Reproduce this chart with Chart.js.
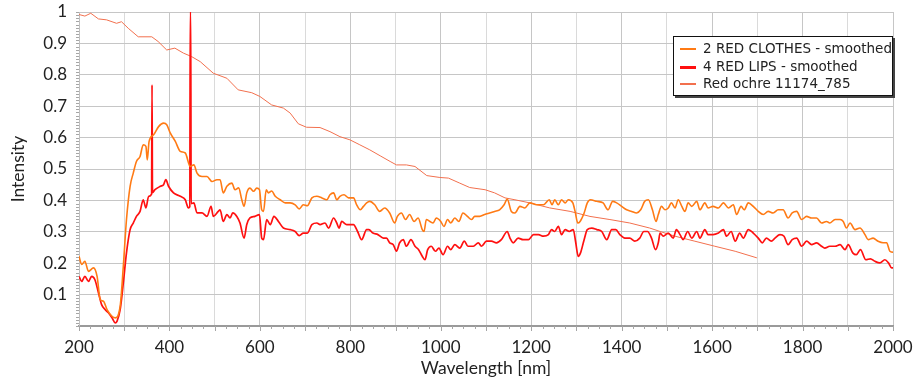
<!DOCTYPE html>
<html>
<head>
<meta charset="utf-8">
<script src="https://cdn.jsdelivr.net/npm/chart.js@4.4.1/dist/chart.umd.min.js"></script>
<style>
  html, body { margin: 0; padding: 0; background: #fff; }
  #wrap { position: relative; width: 914px; height: 383px; }
  #legend {
    position: absolute; left: 673px; top: 36px; width: 220px; height: 60px;
    background: #fff; border: 1px solid #111; box-shadow: 2px 2px 0 #444;
    font: 13.5px "DejaVu Sans", Verdana, sans-serif; color: #222;
    padding-top: 3px; box-sizing: border-box;
  }
  #legend .row { height: 17.5px; line-height: 17.5px; white-space: nowrap; position: relative; }
  #legend .sw { position: absolute; left: 6px; top: 8px; width: 16px; }
  #legend .tx { position: absolute; left: 29px; top: 0; }
</style>
</head>
<body>
<div id="wrap">
  <canvas id="chart" width="914" height="383"></canvas>
  <div id="legend"></div>
</div>
<script>
/* ── spectres : 2 RED CLOTHES / 4 RED LIPS / Red ochre ── */

const xLabels = ['200', '400', '600', '800', '1000', '1200', '1400', '1600', '1800', '2000'];
const seriesNames = ['2 RED CLOTHES - smoothed', '4 RED LIPS - smoothed', 'Red ochre 11174_785'];

const clothesNm = [200, 206, 213, 221, 232, 240, 247, 254, 262, 273, 280, 291, 298, 305, 313, 320, 327, 335, 342, 348,
  351, 355, 365, 376, 387, 394, 402, 413, 424, 435, 446, 454, 461, 472, 483, 494, 505, 512, 519, 527,
  538, 545, 553, 560, 565, 571, 578, 586, 593, 599, 604, 608, 614, 619, 626, 634, 645, 656, 667, 678,
  687, 696, 705, 715, 726, 737, 748, 755, 763, 770, 777, 786, 796, 807, 814, 822, 829, 836, 843, 854,
  865, 876, 887, 898, 904, 913, 922, 931, 941, 950, 959, 963, 968, 976, 983, 990, 1000, 1007, 1015, 1022,
  1031, 1040, 1049, 1059, 1068, 1075, 1086, 1097, 1108, 1119, 1130, 1140, 1147, 1156, 1164, 1175, 1186, 1197, 1212, 1227,
  1240, 1246, 1252, 1260, 1267, 1275, 1282, 1292, 1297, 1303, 1308, 1317, 1324, 1331, 1345, 1359, 1370, 1380, 1389, 1400,
  1411, 1422, 1433, 1442, 1451, 1459, 1468, 1476, 1481, 1488, 1496, 1503, 1510, 1518, 1525, 1533, 1540, 1547, 1555, 1566,
  1573, 1584, 1591, 1602, 1614, 1625, 1636, 1647, 1654, 1664, 1671, 1680, 1691, 1702, 1713, 1724, 1735, 1746, 1757, 1768,
  1777, 1787, 1798, 1809, 1820, 1831, 1842, 1853, 1860, 1872, 1883, 1890, 1897, 1905, 1916, 1927, 1938, 1945, 1956, 1967,
  1978, 1986, 1993, 2000];
const clothesVal = [0.222, 0.196, 0.206, 0.174, 0.185, 0.158, 0.084, 0.079, 0.052, 0.031, 0.026, 0.063, 0.19, 0.339, 0.445, 0.487, 0.524, 0.54, 0.577, 0.572,
  0.529, 0.588, 0.609, 0.635, 0.646, 0.641, 0.614, 0.588, 0.556, 0.551, 0.508, 0.513, 0.487, 0.476, 0.476, 0.46, 0.466, 0.466, 0.424, 0.445,
  0.455, 0.434, 0.44, 0.402, 0.381, 0.424, 0.439, 0.429, 0.439, 0.434, 0.37, 0.365, 0.434, 0.424, 0.43, 0.413, 0.402, 0.392, 0.392, 0.386,
  0.373, 0.386, 0.383, 0.408, 0.413, 0.408, 0.402, 0.418, 0.424, 0.402, 0.413, 0.418, 0.408, 0.408, 0.386, 0.37, 0.381, 0.392, 0.397, 0.386,
  0.365, 0.376, 0.36, 0.328, 0.349, 0.36, 0.339, 0.355, 0.333, 0.344, 0.307, 0.301, 0.339, 0.333, 0.328, 0.344, 0.333, 0.317, 0.339, 0.328,
  0.344, 0.333, 0.36, 0.349, 0.339, 0.349, 0.349, 0.355, 0.36, 0.365, 0.37, 0.386, 0.404, 0.365, 0.36, 0.381, 0.376, 0.392, 0.386, 0.386,
  0.402, 0.386, 0.402, 0.386, 0.402, 0.392, 0.402, 0.392, 0.365, 0.328, 0.333, 0.36, 0.392, 0.402, 0.397, 0.392, 0.37, 0.397, 0.392, 0.381,
  0.37, 0.365, 0.36, 0.37, 0.397, 0.402, 0.37, 0.333, 0.355, 0.381, 0.37, 0.376, 0.392, 0.376, 0.402, 0.381, 0.365, 0.392, 0.381, 0.397,
  0.37, 0.392, 0.376, 0.381, 0.376, 0.392, 0.376, 0.386, 0.355, 0.381, 0.37, 0.392, 0.381, 0.365, 0.355, 0.365, 0.36, 0.37, 0.37, 0.344,
  0.36, 0.365, 0.339, 0.349, 0.344, 0.344, 0.328, 0.333, 0.328, 0.339, 0.339, 0.333, 0.312, 0.328, 0.307, 0.312, 0.291, 0.275, 0.28, 0.27,
  0.265, 0.265, 0.238, 0.235];

const lipsNm = [200, 206, 213, 221, 228, 235, 243, 250, 258, 265, 273, 280, 284, 291, 298, 305, 313, 320, 327, 335,
  342, 348, 354, 360.5, 361.5, 362.5, 368, 380, 387, 392, 398, 409, 424, 435, 442, 445, 446, 447, 448, 454, 461,
  472, 483, 492, 497, 508, 512, 519, 527, 534, 540, 549, 556, 565, 571, 578, 589, 599, 604, 608, 615,
  623, 631, 641, 652, 667, 678, 687, 696, 705, 715, 726, 733, 744, 752, 763, 770, 775, 781, 792, 807,
  816, 825, 836, 841, 850, 861, 873, 880, 887, 895, 902, 909, 917, 924, 934, 943, 951, 959, 965, 971,
  979, 988, 996, 1005, 1015, 1022, 1031, 1042, 1052, 1060, 1072, 1083, 1090, 1101, 1112, 1123, 1134, 1147, 1153, 1160,
  1171, 1182, 1194, 1205, 1216, 1227, 1238, 1245, 1252, 1260, 1267, 1275, 1284, 1293, 1298, 1304, 1309, 1317, 1324, 1334,
  1345, 1356, 1367, 1378, 1387, 1396, 1407, 1418, 1429, 1440, 1449, 1457, 1466, 1475, 1481, 1485, 1492, 1503, 1514, 1521,
  1529, 1536, 1546, 1555, 1566, 1573, 1584, 1591, 1602, 1614, 1625, 1632, 1642, 1651, 1661, 1669, 1680, 1691, 1702, 1711,
  1720, 1731, 1739, 1750, 1759, 1768, 1777, 1787, 1798, 1809, 1820, 1831, 1842, 1849, 1860, 1872, 1883, 1894, 1901, 1911,
  1919, 1928, 1940, 1950, 1960, 1971, 1982, 1990, 1997, 2000];
const lipsVal = [0.158, 0.142, 0.158, 0.142, 0.158, 0.148, 0.106, 0.068, 0.052, 0.042, 0.026, 0.01, 0.015, 0.052, 0.137, 0.233, 0.307, 0.328, 0.349, 0.365,
  0.402, 0.376, 0.413, 0.42, 0.768, 0.425, 0.434, 0.445, 0.45, 0.466, 0.445, 0.424, 0.413, 0.402, 0.376, 0.38, 1.0, 1.0, 0.39, 0.392, 0.36,
  0.36, 0.349, 0.381, 0.349, 0.365, 0.37, 0.333, 0.355, 0.344, 0.36, 0.349, 0.328, 0.28, 0.323, 0.344, 0.349, 0.355, 0.28, 0.275, 0.339,
  0.323, 0.349, 0.333, 0.312, 0.307, 0.301, 0.288, 0.296, 0.296, 0.323, 0.328, 0.323, 0.328, 0.312, 0.344, 0.328, 0.312, 0.333, 0.323, 0.323,
  0.301, 0.275, 0.307, 0.307, 0.296, 0.291, 0.28, 0.28, 0.265, 0.259, 0.238, 0.265, 0.275, 0.254, 0.275, 0.254, 0.243, 0.222, 0.211, 0.243,
  0.254, 0.238, 0.248, 0.227, 0.254, 0.243, 0.259, 0.248, 0.27, 0.254, 0.254, 0.265, 0.254, 0.27, 0.27, 0.265, 0.275, 0.301, 0.28, 0.265,
  0.28, 0.275, 0.275, 0.291, 0.291, 0.286, 0.291, 0.307, 0.301, 0.317, 0.291, 0.307, 0.301, 0.307, 0.27, 0.222, 0.233, 0.275, 0.307, 0.312,
  0.307, 0.301, 0.275, 0.307, 0.307, 0.291, 0.28, 0.28, 0.27, 0.28, 0.301, 0.301, 0.28, 0.243, 0.265, 0.296, 0.286, 0.296, 0.28, 0.307,
  0.291, 0.275, 0.301, 0.28, 0.301, 0.28, 0.307, 0.291, 0.291, 0.296, 0.307, 0.286, 0.301, 0.27, 0.296, 0.28, 0.307, 0.296, 0.28, 0.265,
  0.28, 0.27, 0.28, 0.291, 0.286, 0.259, 0.275, 0.28, 0.254, 0.27, 0.259, 0.265, 0.254, 0.248, 0.254, 0.254, 0.259, 0.243, 0.259, 0.233,
  0.227, 0.243, 0.211, 0.214, 0.206, 0.201, 0.211, 0.201, 0.185, 0.185];

const ochreNm = [200, 213, 226, 243, 261, 283, 294, 309, 331, 361, 375, 394, 412, 431, 449, 468, 497, 527, 552, 582,
  600, 626, 652, 667, 685, 703, 733, 755, 777, 799, 821, 843, 866, 888, 902, 924, 943, 969, 998, 1017,
  1042, 1064, 1098, 1119, 1142, 1164, 1197, 1241, 1286, 1330, 1374, 1418, 1462, 1485, 1518, 1562, 1606, 1651, 1699];
const ochreVal = [0.992, 0.987, 0.996, 0.978, 0.975, 0.964, 0.969, 0.948, 0.921, 0.921, 0.906, 0.879, 0.885, 0.869, 0.858, 0.842, 0.805, 0.789, 0.752, 0.743,
  0.731, 0.704, 0.694, 0.678, 0.644, 0.633, 0.632, 0.619, 0.603, 0.593, 0.577, 0.561, 0.542, 0.524, 0.513, 0.513, 0.508, 0.479, 0.473, 0.471,
  0.455, 0.441, 0.434, 0.424, 0.408, 0.402, 0.392, 0.376, 0.365, 0.349, 0.339, 0.328, 0.312, 0.301, 0.286, 0.27, 0.254, 0.238, 0.217];

const colors = ['#ff7a14', '#ff1010', '#f2704e'];
const widths = [1.6, 1.7, 1];
const swatchW = [2, 3, 2];

const pts = (xs, ys) => xs.map((x, i) => ({ x, y: ys[i] }));

/* petites graduations façon Excel */
const minorTicks = {
  id: 'minorTicks',
  afterDraw(chart) {
    const { ctx, scales: { x, y }, chartArea: a } = chart;
    ctx.save();
    ctx.strokeStyle = '#a6a6a6';
    ctx.lineWidth = 1;
    ctx.beginPath();
    for (let v = 200; v <= 2000; v += 25) {
      const px = Math.round(x.getPixelForValue(v)) + 0.5;
      const len = v % 100 === 0 ? 5 : 3;
      ctx.moveTo(px, a.bottom); ctx.lineTo(px, a.bottom + len);
    }
    for (let k = 0; k <= 100; k++) {
      const py = Math.round(y.getPixelForValue(k / 100)) + 0.5;
      ctx.moveTo(a.left - 3, py); ctx.lineTo(a.left, py);
    }
    ctx.stroke();
    ctx.restore();
  }
};

const ds = [
  { label: seriesNames[0], data: pts(clothesNm, clothesVal), cubicInterpolationMode: 'monotone' },
  { label: seriesNames[1], data: pts(lipsNm, lipsVal), cubicInterpolationMode: 'monotone' },
  { label: seriesNames[2], data: pts(ochreNm, ochreVal) }
].map((d, i) => Object.assign(d, {
  borderColor: colors[i], backgroundColor: colors[i], borderWidth: widths[i],
  pointRadius: 0, fill: false
}));

const tickFont  = { family: 'Lato, "Open Sans", sans-serif', size: 17 };
const titleFont = { family: 'Lato, "Open Sans", sans-serif', size: 17.5 };

new Chart(document.getElementById('chart').getContext('2d'), {
  type: 'line',
  data: { datasets: ds },
  options: {
    responsive: false, animation: false, devicePixelRatio: 1,
    layout: { padding: { top: 12, right: 21, left: 0, bottom: 0 } },
    plugins: { legend: { display: false }, tooltip: { enabled: false } },
    scales: {
      x: {
        type: 'linear', min: 200, max: 2000,
        afterFit: s => { s.height = 57; s.paddingLeft = 0; s.paddingRight = 21; },
        ticks: {
          stepSize: 100, padding: 11, color: '#222', font: tickFont, maxRotation: 0, autoSkip: false,
          callback: v => xLabels.includes(String(v)) ? String(v) : ''
        },
        grid: { drawTicks: false, color: c => (c.tick && c.tick.value % 200 === 0) ? '#c6c6c6' : '#dadada', lineWidth: 1 },
        border: { color: '#9a9a9a', width: 2 },
        title: { display: true, text: 'Wavelength [nm]', color: '#222', font: titleFont, padding: { top: 0, bottom: 4 } }
      },
      y: {
        min: 0, max: 1,
        afterFit: s => { s.width = 79; s.paddingTop = 0; s.paddingBottom = 0; },
        ticks: {
          stepSize: 0.05, padding: 12, color: '#222', font: tickFont,
          callback: v => {
            const r = Math.round(v * 100);
            if (r === 0 || r % 10 !== 0) return '';
            return r === 100 ? '1' : (r / 100).toFixed(1);
          }
        },
        grid: { drawTicks: false, color: c => (c.tick && Math.round(c.tick.value * 100) % 10 === 0) ? '#c6c6c6' : '#e2e2e2', lineWidth: 1 },
        border: { color: '#c0c0c0', width: 1 },
        title: { display: true, text: 'Intensity', color: '#222', font: titleFont, padding: { top: 8, bottom: 0 } }
      }
    }
  },
  plugins: [minorTicks]
});

/* légende HTML encadrée */
const leg = document.getElementById('legend');
seriesNames.forEach((name, i) => {
  const row = document.createElement('div');
  row.className = 'row';
  row.innerHTML = `<span class="sw" style="border-top:${swatchW[i]}px solid ${colors[i]}"></span><span class="tx">${name}</span>`;
  leg.appendChild(row);
});
</script>
</body>
</html>
